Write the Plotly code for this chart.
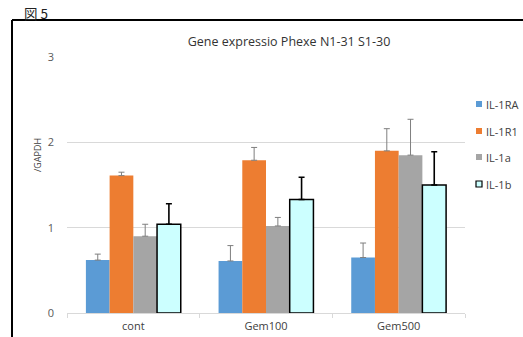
import plotly.graph_objects as go

categories = ["cont", "Gem100", "Gem500"]
series_names = ["IL-1RA", "IL-1R1", "IL-1a", "IL-1b"]
il1ra = [0.62, 0.61, 0.65]
il1r1 = [1.61, 1.79, 1.90]
il1a = [0.90, 1.02, 1.85]
il1b = [1.04, 1.33, 1.50]
il1ra_err = [0.07, 0.18, 0.17]
il1r1_err = [0.04, 0.15, 0.26]
il1a_err = [0.14, 0.10, 0.42]
il1b_err = [0.24, 0.26, 0.39]
y_ticks = [0, 1, 2, 3]

values = [il1ra, il1r1, il1a, il1b]
errors = [il1ra_err, il1r1_err, il1a_err, il1b_err]
fills = ["#5B9BD5", "#ED7D31", "#A5A5A5", "#CCFFFF"]
outlines = [None, None, None, "#000000"]
errcolors = ["#7F7F7F", "#7F7F7F", "#7F7F7F", "#000000"]
errthick = [1, 1, 1, 1.6]

W, H = 523, 337
L, R, T, B = 67, 58, 57, 24
pw, ph = W - L - R, H - T - B

fig = go.Figure()
for i, name in enumerate(series_names):
    fig.add_trace(go.Bar(
        x=categories, y=values[i], name=name, showlegend=False,
        marker=dict(color=fills[i],
                    line=dict(color=outlines[i] or fills[i], width=1.5 if outlines[i] else 0)),
        error_y=dict(type="data", symmetric=False, array=errors[i],
                     arrayminus=[0] * len(categories),
                     color=errcolors[i], thickness=errthick[i], width=3),
    ))

def px_x(x):
    return (x - L) / pw

def px_y(y):
    return (H - B - y) / ph

shapes = [
    dict(type="line", xref="paper", yref="paper", x0=px_x(12), x1=px_x(530),
         y0=px_y(20), y1=px_y(20), line=dict(color="black", width=2)),
    dict(type="line", xref="paper", yref="paper", x0=px_x(12), x1=px_x(12),
         y0=px_y(20), y1=px_y(345), line=dict(color="black", width=2)),
]
annotations = [
    dict(text="図 5", xref="paper", yref="paper", x=px_x(22), y=px_y(13),
         xanchor="left", yanchor="middle", showarrow=False,
         font=dict(family="Noto Sans CJK JP", size=13.5, color="#222222")),
    dict(text="/GAPDH", xref="paper", yref="paper", x=px_x(37), y=px_y(155),
         xanchor="center", yanchor="middle", showarrow=False, textangle=-90,
         font=dict(size=9, color="#404040")),
]

# legend (drawn manually to match the small square keys)
leg_y = [104, 131, 157, 184]
for i, name in enumerate(series_names):
    yc = leg_y[i]
    shapes.append(dict(type="rect", xref="paper", yref="paper",
                       x0=px_x(476), x1=px_x(482), y0=px_y(yc - 3), y1=px_y(yc + 3),
                       fillcolor=fills[i],
                       line=dict(color=outlines[i] or fills[i], width=1.2 if outlines[i] else 0)))
    annotations.append(dict(text=name, xref="paper", yref="paper", x=px_x(484), y=px_y(yc),
                            xanchor="left", yanchor="middle", showarrow=False,
                            font=dict(size=11, color="#404040")))

fig.update_layout(
    width=W, height=H,
    margin=dict(l=L, r=R, t=T, b=B, pad=0, autoexpand=False),
    paper_bgcolor="white", plot_bgcolor="white",
    font=dict(family="Open Sans, Liberation Sans, sans-serif", color="#595959", size=11),
    barmode="group", bargap=0.285, bargroupgap=0,
    showlegend=False,
    title=dict(text="Gene expressio Phexe N1-31 S1-30", x=289 / W, xanchor="center",
               y=1 - 42 / H, yanchor="middle",
               font=dict(size=12.5, color="#333333")),
    xaxis=dict(showgrid=False, showline=True, linecolor="#D9D9D9", linewidth=1,
               ticks="outside", tickson="boundaries", ticklen=4, tickcolor="#D9D9D9",
               ticklabelstandoff=3,
               tickfont=dict(size=11, color="#404040"), fixedrange=True, automargin=False),
    yaxis=dict(range=[0, 3], tickvals=y_ticks, showgrid=True, gridcolor="#D9D9D9",
               gridwidth=1, showline=False, zeroline=False, ticks="",
               ticklabelstandoff=12, tickfont=dict(size=11, color="#595959"),
               automargin=False, fixedrange=True),
    shapes=shapes,
    annotations=annotations,
)

fig.write_html("out.html", config={"displayModeBar": False, "staticPlot": False},
               post_script="document.body.style.margin='0';document.body.style.overflow='hidden';")
